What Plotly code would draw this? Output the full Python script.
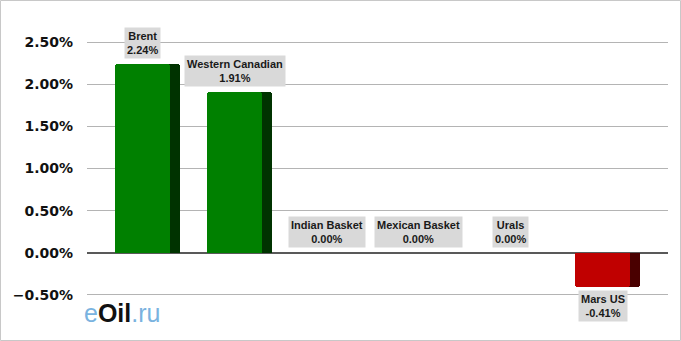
import plotly.graph_objects as go

categories = ["Brent", "Western Canadian", "Indian Basket", "Mexican Basket", "Urals", "Mars US"]
values = [0.0224, 0.0191, 0.0, 0.0, 0.0, -0.0041]
label_texts = ["2.24%", "1.91%", "0.00%", "0.00%", "0.00%", "-0.41%"]

front_colors = ["#008000" if v >= 0 else "#c00000" for v in values]
side_colors = ["#003300" if v >= 0 else "#4a0000" for v in values]
xpos = list(range(len(categories)))

W, H = 681, 341
ml, mr, mt, mb = 87, 13, 21, 25
pw, ph = W - ml - mr, H - mt - mb
slot = 92.0
xmin = -(142.5 - ml) / slot
xmax = xmin + pw / slot

front_w = 55 / slot
side_w = 65 / slot

fig = go.Figure()
fig.add_trace(go.Bar(x=xpos, y=values, width=side_w, offset=-front_w / 2,
                     marker=dict(color=side_colors, line=dict(width=0)),
                     hoverinfo="skip", showlegend=False))
fig.add_trace(go.Bar(x=xpos, y=values, width=front_w, offset=-front_w / 2,
                     marker=dict(color=front_colors, line=dict(width=0)),
                     customdata=categories, showlegend=False))

for i, (c, v, t) in enumerate(zip(categories, values, label_texts)):
    fig.add_annotation(x=i, y=v, xref="x", yref="y",
                       text=f"<b>{c}<br>{t}</b>", showarrow=False,
                       yanchor="bottom" if v >= 0 else "top",
                       yshift=5 if v >= 0 else -3,
                       bgcolor="#d9d9d9", borderpad=2,
                       font=dict(family="Liberation Sans, Arial", size=11, color="#1a1a1a"))

# logo
fig.add_annotation(x=(82 - ml) / pw, y=(mt + ph - 313) / ph, xref="paper", yref="paper",
                   xanchor="left", yanchor="middle", showarrow=False,
                   text="<span style='color:#7ab3df'>e</span><b>Oil</b><span style='color:#7ab3df'>.ru</span>",
                   font=dict(family="Liberation Sans, Arial", size=25, color="#111111"))

# outer frame
fig.add_shape(type="rect", xref="paper", yref="paper",
              x0=(0.5 - ml) / pw, x1=(W - 0.5 - ml) / pw,
              y0=(mt + ph - (H - 0.5)) / ph, y1=(mt + ph - 0.5) / ph,
              line=dict(color="#c8c8c8", width=1), fillcolor="rgba(0,0,0,0)", layer="below")

fig.update_layout(
    width=W, height=H, margin=dict(l=ml, r=mr, t=mt, b=mb),
    paper_bgcolor="white", plot_bgcolor="white",
    barmode="overlay", bargap=0, barcornerradius=3,
    xaxis=dict(range=[xmin, xmax], showticklabels=False, showgrid=False,
               zeroline=False, showline=False, ticks=""),
    yaxis=dict(range=[-0.0075, 0.0275], tickformat=".2%", dtick=0.005, tick0=0,
               showgrid=True, gridcolor="#b4b4b4", gridwidth=1,
               zeroline=True, zerolinecolor="#595959", zerolinewidth=2,
               showline=False, ticks="", ticklabelstandoff=13,
               tickfont=dict(family="DejaVu Sans", size=14, color="#111111", weight="bold")),
)

fig.write_html("out.html")
